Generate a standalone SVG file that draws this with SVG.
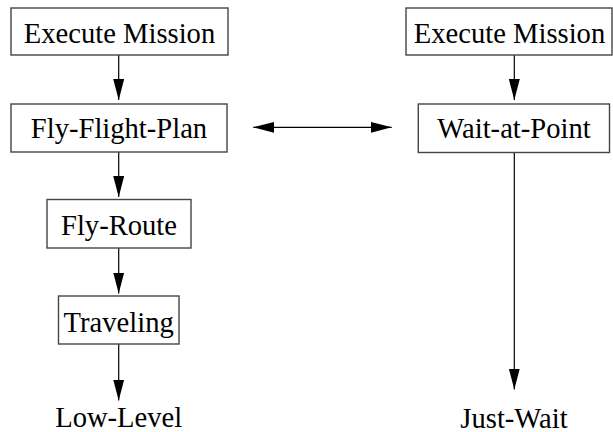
<svg xmlns="http://www.w3.org/2000/svg" width="613" height="432" viewBox="0 0 613 432">
<style>
.box{fill:#fff;stroke:#444;stroke-width:1.4}
.t{font-family:"Liberation Serif","Times New Roman",serif;font-size:28.6px;fill:#000;text-anchor:middle}
.c{stroke:#000;stroke-width:1.2;fill:none}
</style>
<defs>
<marker id="ah" markerUnits="userSpaceOnUse" markerWidth="22" markerHeight="12" refX="21" refY="6" orient="auto-start-reverse" viewBox="0 0 22 12">
<polygon points="0,0.5 21,6 0,11.5" fill="#000"/>
</marker>
</defs>
<g id="connectors">
<line class="c" x1="118.7" y1="55" x2="118.7" y2="100" marker-end="url(#ah)"/>
<line class="c" x1="118.7" y1="152" x2="118.7" y2="197" marker-end="url(#ah)"/>
<line class="c" x1="118.7" y1="248" x2="118.7" y2="293.5" marker-end="url(#ah)"/>
<line class="c" x1="118.7" y1="344" x2="118.7" y2="400.5" marker-end="url(#ah)"/>
<line class="c" x1="514.3" y1="55" x2="514.3" y2="100" marker-end="url(#ah)"/>
<line class="c" x1="514.3" y1="152.5" x2="514.3" y2="389.5" marker-end="url(#ah)"/>
<line class="c" x1="253.3" y1="127.3" x2="391.7" y2="127.3" marker-start="url(#ah)" marker-end="url(#ah)"/>
</g>
<g id="exec-left">
<rect class="box" x="11" y="8" width="217" height="47"/>
<text class="t" x="119.5" y="43">Execute Mission</text>
</g>
<g id="fly-flight-plan">
<rect class="box" x="11" y="104" width="216" height="48"/>
<text class="t" x="119" y="138.3">Fly-Flight-Plan</text>
</g>
<g id="fly-route">
<rect class="box" x="47" y="199.5" width="144" height="48.5"/>
<text class="t" x="119" y="235">Fly-Route</text>
</g>
<g id="traveling">
<rect class="box" x="58.5" y="296" width="120.5" height="48"/>
<text class="t" x="118.7" y="331.7">Traveling</text>
</g>
<g id="low-level">
<text class="t" x="118.7" y="426.7">Low-Level</text>
</g>
<g id="exec-right">
<rect class="box" x="406" y="8" width="206" height="47"/>
<text class="t" x="509.5" y="43">Execute Mission</text>
</g>
<g id="wait-at-point">
<rect class="box" x="418.3" y="104" width="191.2" height="48.5"/>
<text class="t" x="514" y="138.3">Wait-at-Point</text>
</g>
<g id="just-wait">
<text class="t" x="514" y="427.5">Just-Wait</text>
</g>
</svg>
